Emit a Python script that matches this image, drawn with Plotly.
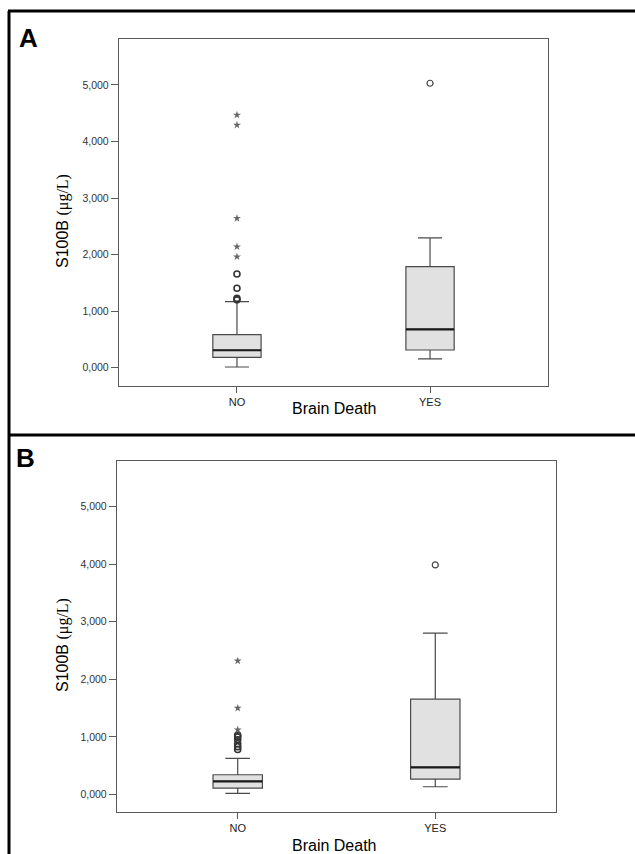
import plotly.graph_objects as go

W, H = 635, 854

# ---------------- data ----------------
categories = ["NO", "YES"]
cat_pos = [0, 1]
ytick_vals = [0, 1000, 2000, 3000, 4000, 5000]
ytick_text = ["0,000", "1,000", "2,000", "3,000", "4,000", "5,000"]

# Panel A
a_q1 = [183, 313]
a_median = [308, 679]
a_q3 = [584, 1786]
a_lower = [12, 154]
a_upper = [1167, 2294]
a_no_circles = [1200, 1225, 1404, 1657]
a_no_stars = [1963, 2140, 2642, 4292, 4469]
a_yes_circles = [5030]

# Panel B
b_q1 = [111, 267]
b_median = [226, 469]
b_q3 = [342, 1656]
b_lower = [17, 134]
b_upper = [625, 2802]
b_no_circles = [780, 830, 880, 950, 1000, 1030]
b_no_stars = [1123, 1500, 2321]
b_yes_circles = [3988]

# ---------------- style ----------------
BOX_W = 0.25
FONT = "Liberation Sans, Arial, sans-serif"
LINE = "#4a4a4a"
FILL = "#e1e1e1"


def px_x(px):
    return px / W


def px_y(py):
    return 1 - py / H


fig = go.Figure()


def add_panel(xa, ya, q1, med, q3, lo, hi, no_circ, no_stars, yes_circ):
    xr = "x" if xa == "x1" else xa
    yr = "y" if ya == "y1" else ya
    for i, p in enumerate(cat_pos):
        fig.add_trace(go.Box(
            x=[p], q1=[q1[i]], median=[med[i]], q3=[q3[i]],
            lowerfence=[lo[i]], upperfence=[hi[i]],
            width=BOX_W, whiskerwidth=0.5, boxpoints=False,
            fillcolor=FILL, line=dict(color=LINE, width=1.2),
            xaxis=xr, yaxis=yr, showlegend=False, hoverinfo="skip"))
        fig.add_trace(go.Scatter(
            x=[p - BOX_W / 2, p + BOX_W / 2], y=[med[i], med[i]],
            mode="lines", line=dict(color="#1a1a1a", width=2.2),
            xaxis=xr, yaxis=yr, showlegend=False, hoverinfo="skip"))
    fig.add_trace(go.Scatter(
        x=[cat_pos[0]] * len(no_circ), y=no_circ, mode="markers",
        marker=dict(symbol="circle-open", size=6, color="#333333",
                    line=dict(width=1.6)),
        xaxis=xr, yaxis=yr, showlegend=False, hoverinfo="skip"))
    fig.add_trace(go.Scatter(
        x=[cat_pos[0]] * len(no_stars), y=no_stars, mode="markers",
        marker=dict(symbol="star", size=6, color="#666666"),
        xaxis=xr, yaxis=yr, showlegend=False, hoverinfo="skip"))
    fig.add_trace(go.Scatter(
        x=[cat_pos[1]] * len(yes_circ), y=yes_circ, mode="markers",
        marker=dict(symbol="circle-open", size=6, color="#444444",
                    line=dict(width=1.2)),
        xaxis=xr, yaxis=yr, showlegend=False, hoverinfo="skip"))


add_panel("x1", "y1", a_q1, a_median, a_q3, a_lower, a_upper,
          a_no_circles, a_no_stars, a_yes_circles)
add_panel("x2", "y2", b_q1, b_median, b_q3, b_lower, b_upper,
          b_no_circles, b_no_stars, b_yes_circles)

xcommon = dict(range=[-0.611, 1.611], tickvals=cat_pos, ticktext=categories,
               showline=True, mirror=True, linecolor="#5a5a5a", linewidth=1.2,
               ticks="outside", ticklen=6, tickcolor="#5a5a5a", tickwidth=1,
               showgrid=False, zeroline=False,
               tickfont=dict(family=FONT, size=11, color="#222222"))
ycommon = dict(tickvals=ytick_vals, ticktext=ytick_text,
               showline=True, mirror=True, linecolor="#5a5a5a", linewidth=1.2,
               ticks="outside", ticklen=7, tickcolor="#5a5a5a", tickwidth=1,
               showgrid=False, zeroline=False,
               tickfont=dict(family=FONT, size=10.5, color="#333333"))

fig.update_layout(
    width=W, height=H, margin=dict(l=0, r=0, t=0, b=0),
    paper_bgcolor="white", plot_bgcolor="white", showlegend=False,
    xaxis=dict(domain=[px_x(119), px_x(548)], anchor="y", **xcommon),
    yaxis=dict(domain=[px_y(386), px_y(39)], anchor="x",
               range=[-324, 5813], **ycommon),
    xaxis2=dict(domain=[px_x(117), px_x(556)], anchor="y2", **xcommon),
    yaxis2=dict(domain=[px_y(812), px_y(461)], anchor="x2",
                range=[-305, 5793], **ycommon),
)

# outer frame lines
frame = dict(type="line", xref="paper", yref="paper",
             line=dict(color="black", width=3))
fig.add_shape(x0=px_x(8), x1=1, y0=px_y(11), y1=px_y(11), **frame)
fig.add_shape(x0=px_x(9), x1=px_x(9), y0=px_y(11), y1=0, **frame)
fig.add_shape(x0=px_x(8), x1=1, y0=px_y(435), y1=px_y(435), **frame)

ytitle = 'S100B <span style="font-family:Liberation Serif">(μg/L)</span>'
annos = [
    dict(text="<b>A</b>", x=px_x(28), y=px_y(38), size=26),
    dict(text="<b>B</b>", x=px_x(25), y=px_y(458), size=26),
    dict(text="Brain Death", x=px_x(334.5), y=px_y(408), size=16),
    dict(text="Brain Death", x=px_x(334.5), y=px_y(845), size=16),
]
for a in annos:
    fig.add_annotation(text=a["text"], x=a["x"], y=a["y"], xref="paper",
                       yref="paper", showarrow=False, xanchor="center",
                       yanchor="middle",
                       font=dict(family=FONT, size=a["size"], color="black"))
for yc in (221, 645):
    fig.add_annotation(text=ytitle, x=px_x(63), y=px_y(yc), xref="paper",
                       yref="paper", showarrow=False, textangle=-90,
                       xanchor="center", yanchor="middle",
                       font=dict(family=FONT, size=16, color="black"))

fig.write_html(
    "out.html",
    config={"displayModeBar": False, "staticPlot": True},
    post_script="document.body.style.margin='0';"
                "document.body.style.padding='0';"
                "document.body.style.overflow='hidden';",
)
